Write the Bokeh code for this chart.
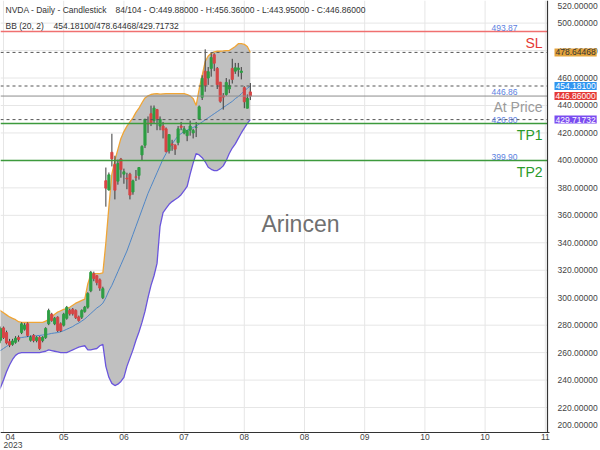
from bokeh.plotting import figure
from bokeh.models import Range1d, Label, ColumnDataSource
from bokeh.core.properties import value
from bokeh.embed import file_html
from bokeh.resources import INLINE

# ---------------- data ----------------
opens = [267, 269, 278, 274.6, 268, 266, 267.5, 271, 274.6, 277, 281, 269, 272.5, 268.8, 271, 268.8, 271, 281,
         288, 281, 285.8, 281, 280, 285, 290.7, 291.5, 290.7, 286, 285.8, 290, 293.1, 305, 317.5, 316, 313, 300,
         385.2, 378.5, 405.9, 397.0, 384.9, 401.0, 390.0, 387.0, 390.0, 377.0, 388.0, 389.0, 404.0, 411.0, 427.0,
         434.0, 429.0, 437.0, 425.0, 425.0, 423.0, 407.0, 412.0, 411.0, 413.0, 425.0, 420.0, 418.0, 422.0, 420.0,
         424.0, 430.0, 446.0, 465.0, 460.0, 467.0, 477.0, 467.0, 457.0, 447.0, 448.0, 452.0, 467.0, 465.0, 466.0,
         464.0, 453.0, 438.0, 449.88]
highs = [272, 279, 279, 276, 270, 270, 272, 272.5, 282, 281.5, 282, 272.5, 273.5, 272, 272, 272, 278.5, 292,
         289, 286, 286.5, 282, 289, 294, 292, 292.5, 291.5, 287, 291.5, 294, 304, 319.5, 319, 316.5, 314, 308,
         394.8, 391.2, 419.4, 403.4, 400.5, 401.8, 394.0, 391.0, 391.0, 386.0, 393.0, 395.0, 411.0, 430.0, 432.0,
         439.9, 440.0, 437.5, 432.0, 428.0, 424.0, 419.0, 415.0, 411.8, 425.0, 428.0, 425.0, 422.0, 429.0, 423.0,
         428.0, 440.0, 462.0, 480.9, 468.0, 478.0, 478.0, 468.0, 457.0, 449.0, 460.0, 459.0, 474.0, 471.0, 471.0,
         468.0, 454.0, 448.0, 456.36]
lows = [265, 268, 270, 266, 264, 265, 266.5, 268, 273.5, 276, 271.5, 268, 267.5, 267.5, 262, 267.5, 270, 280,
        282.5, 280, 275, 275, 279, 284, 287, 287, 284.5, 282.5, 284.5, 289, 292, 304, 312, 309, 305, 299,
        366.3, 378.0, 395.6, 371.6, 382.3, 387.4, 383.0, 379.0, 371.6, 375.0, 385.0, 386.0, 400.0, 409.0, 420.0,
        425.0, 427.0, 422.0, 422.0, 416.0, 406.0, 405.0, 407.0, 404.0, 411.0, 422.0, 419.0, 414.0, 418.0, 416.0,
        417.0, 430.0, 444.0, 450.0, 455.0, 461.0, 465.0, 452.0, 442.0, 437.0, 447.0, 449.0, 456.0, 463.0, 461.0,
        459.0, 438.0, 438.0, 443.95]
closes = [271, 277.6, 271, 267, 265.5, 268.5, 270.5, 269.5, 281, 280, 272.5, 271.2, 268.8, 271, 263, 271.2, 277.6,
          290.6, 283.4, 285, 276.1, 276, 288, 293, 288.3, 288.3, 285.5, 283.4, 290.7, 293.1, 303, 318.5, 314, 311,
          307, 306.6, 379.8, 389.5, 401.1, 378.3, 397.7, 393.3, 391.7, 386.5, 374.75, 385.1, 387.7, 394.8, 410.2,
          430.0, 426.5, 426.9, 438.1, 430.25, 430.0, 422.1, 406.3, 418.8, 411.2, 408.2, 423.0, 424.1, 423.0, 421.8,
          425.0, 421.8, 424.1, 439.0, 459.8, 454.7, 464.6, 474.9, 470.8, 455.2, 443.1, 446.1, 456.8, 454.5, 459.0,
          467.5, 467.3, 465.1, 442.7, 445.2, 446.86]
bb_upper = [292, 290.5, 289, 287.5, 286, 285, 284, 282.5, 282, 282, 282, 282, 282, 282, 282, 282, 283, 284, 286,
            288, 289.5, 290.5, 291.5, 292, 293, 294.5, 296, 297, 298, 299, 310, 317, 317.5, 317.5, 317.5, 318,
            340, 366, 390, 400, 408, 416, 421, 425, 428, 431, 435, 438, 442, 445.5, 447, 448, 448.5, 448.7, 448.2,
            448.5, 448.7, 448.7, 448.7, 448.7, 448.7, 448.7, 448.7, 448, 447, 445, 440, 452, 462, 472, 476, 478,
            479, 479.5, 479.5, 479.7, 480, 480, 481.5, 483, 485, 485, 484.5, 483, 478.64468]
bb_mid = [260, 261.5, 263, 264.5, 266, 267.5, 269, 270.5, 271, 271.3, 271.6, 271.9, 272.1, 272.3, 272.5, 272.8,
          273.1, 273.5, 274, 274.3, 274.6, 275.2, 276, 277, 278, 279, 280.5, 281.5, 283, 284.5, 286.5, 288.5, 290.5,
          292.5, 294, 296, 300, 305, 309, 314, 319, 324, 329, 334, 340, 346, 352, 358, 364, 370, 376, 381, 386, 391,
          396, 401, 405, 409, 412, 415, 418, 419.5, 421, 422, 423, 424, 425, 426.5, 428, 429.5, 431, 432.5, 434,
          435.5, 437, 438.5, 440, 441.5, 443, 445, 446.5, 448.5, 450.5, 452.5, 454.181]
bb_lower = [230, 234.6, 240, 246, 251, 255, 258, 259.5, 260, 260, 260, 260, 260, 260, 260, 260.5, 261, 262, 261.5,
            261, 260.5, 260, 260, 260, 261, 262, 263, 264, 264.5, 265, 262, 262, 262.5, 263, 265, 266, 250, 242,
            237.6, 236, 237, 239, 242, 250, 256, 262, 269, 275, 282, 290, 300, 309, 316, 325, 352, 362, 365, 368,
            370, 371.5, 373, 375, 378, 381, 390, 398, 405, 404, 402, 399, 395, 393.5, 392.6, 392.6, 394, 396, 400,
            405, 409, 412, 416, 420, 423.5, 427, 429.71732]

month_labels = ["04", "05", "06", "07", "08", "08", "09", "10", "10", "11"]
year_label = "2023"
price_ticks = [200, 220, 240, 260, 280, 300, 320, 340, 360, 380, 400, 420, 440, 460, 480, 500, 520]

level_names = ["SL", "At Price", "TP1", "TP2"]
level_values = [493.87, 446.86, 426.80, 399.90]
bb_last = [454.18100, 478.64468, 429.71732]  # middle / upper / lower

header_1a = "NVDA - Daily - Candlestick"
header_1b = "84/104 - O:449.88000 - H:456.36000 - L:443.95000 - C:446.86000"
header_2a = "BB (20, 2)"
watermark = "Arincen"

# ---------------- layout helpers (pixel <-> data) ----------------
CW, CH = 600, 450          # canvas
FW, FH = 547, 432          # chart area (right / bottom axis lines)
PX0, PXB = -3.0, 3.01      # pixel of bar 0 and pixels per bar
PY500, PYU = 22.6, 1.373   # pixel of price 500 and pixels per price unit
FONT = "Liberation Sans"


def dx(px):
    return (px - PX0) / PXB


def dy(py):
    return 500 - (py - PY500) / PYU


XL, XR = dx(0), dx(CW)
YT, YB = dy(0), dy(CH)
x_axis_x = dx(FW)
x_axis_y = dy(FH)
lab_top = dy(5)   # highest position where a tick label still fits in the canvas
lab_bot = dy(424)  # lowest position where a tick label still fits above the x axis

n = len(closes)
xs = list(range(n))
tick_idx = [dx(3 + 60.2 * k) for k in range(len(month_labels))]

p = figure(width=CW, height=CH, x_range=Range1d(XL, XR), y_range=Range1d(YB, YT),
           output_backend="svg", toolbar_location=None, x_axis_location=None, y_axis_location=None,
           min_border=0)
p.outline_line_color = None
p.background_fill_color = "white"
p.border_fill_color = "white"
p.xgrid.visible = False
p.ygrid.visible = False

# grid lines (limited to the chart area)
grid_y = [t for t in price_ticks if x_axis_y < t < YT]
p.segment(x0=[XL] * len(grid_y), y0=grid_y, x1=[x_axis_x] * len(grid_y), y1=grid_y,
          line_color="#e6e6e6", line_width=1)
p.segment(x0=tick_idx, y0=[x_axis_y] * len(tick_idx), x1=tick_idx, y1=[YT] * len(tick_idx),
          line_color="#e6e6e6", line_width=1)

# Bollinger band
p.varea(x=xs, y1=bb_lower, y2=bb_upper, fill_color="#c0c0c0")
p.line(xs, bb_upper, line_color="#f0a535", line_width=1.3)
p.line(xs, bb_lower, line_color="#6a55dc", line_width=1.3)
p.line(xs, bb_mid, line_color="#4f86c6", line_width=1)

# candles
src = ColumnDataSource(dict(
    x=xs, high=highs, low=lows,
    top=[max(o, c) for o, c in zip(opens, closes)],
    bottom=[min(o, c) for o, c in zip(opens, closes)],
    color=["#2e9e44" if c >= o else "#d64545" for o, c in zip(opens, closes)],
))
p.segment(x0="x", y0="low", x1="x", y1="high", source=src, line_color="#3a3a3a", line_width=1)
p.vbar(x="x", width=0.7, top="top", bottom="bottom", source=src, fill_color="color", line_color="color")

# horizontal levels (chart area only)
sl, at_price, tp1, tp2 = level_values
bb_mid_v, bb_up_v, bb_lo_v = bb_last
lvl_lines = [(sl, "#f07070", 1.5, "solid"), (tp1, "#3d9a3d", 1.5, "solid"), (tp2, "#3d9a3d", 1.5, "solid"),
             (at_price, "#8c8c8c", 1, "solid"), (bb_up_v, "#555555", 1, "3 3"),
             (bb_mid_v, "#555555", 1, "3 3"), (bb_lo_v, "#555555", 1, "3 3")]
for v, col, lw, dash in lvl_lines:
    p.segment(x0=[XL], y0=[v], x1=[x_axis_x], y1=[v], line_color=col, line_width=lw, line_dash=dash)

# axis lines
p.segment(x0=[XL], y0=[x_axis_y], x1=[dx(FW + 2)], y1=[x_axis_y], line_color="#333333", line_width=1.2)
p.segment(x0=[x_axis_x], y0=[x_axis_y], x1=[x_axis_x], y1=[YT], line_color="#333333", line_width=1.2)

# right axis tick labels (edge labels are pulled inside the canvas)
lab_y = [min(max(t, lab_bot), lab_top) for t in price_ticks]
lab_txt = [f"{t:.5f}" for t in price_ticks]
p.text(x=[dx(557)] * len(lab_y), y=lab_y, text=lab_txt, text_align="left", text_baseline="middle",
       text_font=value(FONT), text_font_size="8.5px", text_color="#444444")

# bottom axis tick labels
p.text(x=tick_idx[1:], y=[dy(433)] * (len(tick_idx) - 1), text=month_labels[1:], text_align="center",
       text_baseline="top", text_font=value(FONT), text_font_size="8.5px", text_color="#444444")
p.text(x=[dx(5), dx(3)], y=[dy(433), dy(441)], text=[month_labels[0], year_label], text_align="left",
       text_baseline="top", text_font=value(FONT), text_font_size="8.5px", text_color="#444444")

# small value labels above the levels
for v in level_values:
    p.add_layout(Label(x=dx(517), y=v, text=f"{v:.2f}", text_align="right", text_baseline="bottom",
                       y_offset=1, text_font=FONT, text_font_size="8.5px", text_color="#5b7fe0"))

# big level names below the levels
name_colors = ["#e53935", "#9a9a9a", "#2a9a2a", "#2a9a2a"]
for name, v, col in zip(level_names, level_values, name_colors):
    p.add_layout(Label(x=dx(542), y=v, text=name, text_align="right", text_baseline="top",
                       y_offset=-3, text_font=FONT, text_font_size="14px", text_color=col))

# price boxes on the right axis
boxes = [(bb_up_v, "#e3a43c", "#333333"), (bb_mid_v, "#2f95f0", "white"),
         (at_price, "#e53935", "white"), (bb_lo_v, "#7a4cf0", "white")]
for v, bg, fg in boxes:
    p.add_layout(Label(x=dx(554), y=v, text=f"{v:.5f}", text_align="left", text_baseline="middle",
                       text_font=FONT, text_font_size="8.5px", text_color=fg,
                       background_fill_color=bg, padding=1))

# header
hdr = dict(text_align="left", text_baseline="middle", text_font=FONT, text_font_size="8.5px",
           text_color="#333333")
p.add_layout(Label(x=dx(5), y=dy(9), text=header_1a, **hdr))
p.add_layout(Label(x=dx(115), y=dy(9), text=header_1b, **hdr))
p.add_layout(Label(x=dx(5), y=dy(25), text=header_2a, **hdr))
p.add_layout(Label(x=dx(53), y=dy(25), text=f"{bb_mid_v:.5f}/{bb_up_v:.5f}/{bb_lo_v:.5f}", **hdr))

# watermark
p.add_layout(Label(x=dx(300), y=dy(223), text=watermark, text_align="center", text_baseline="middle",
                   text_font=FONT, text_font_size="23px", text_color="#707070"))

open("out.html", "w").write(file_html(p, INLINE))
